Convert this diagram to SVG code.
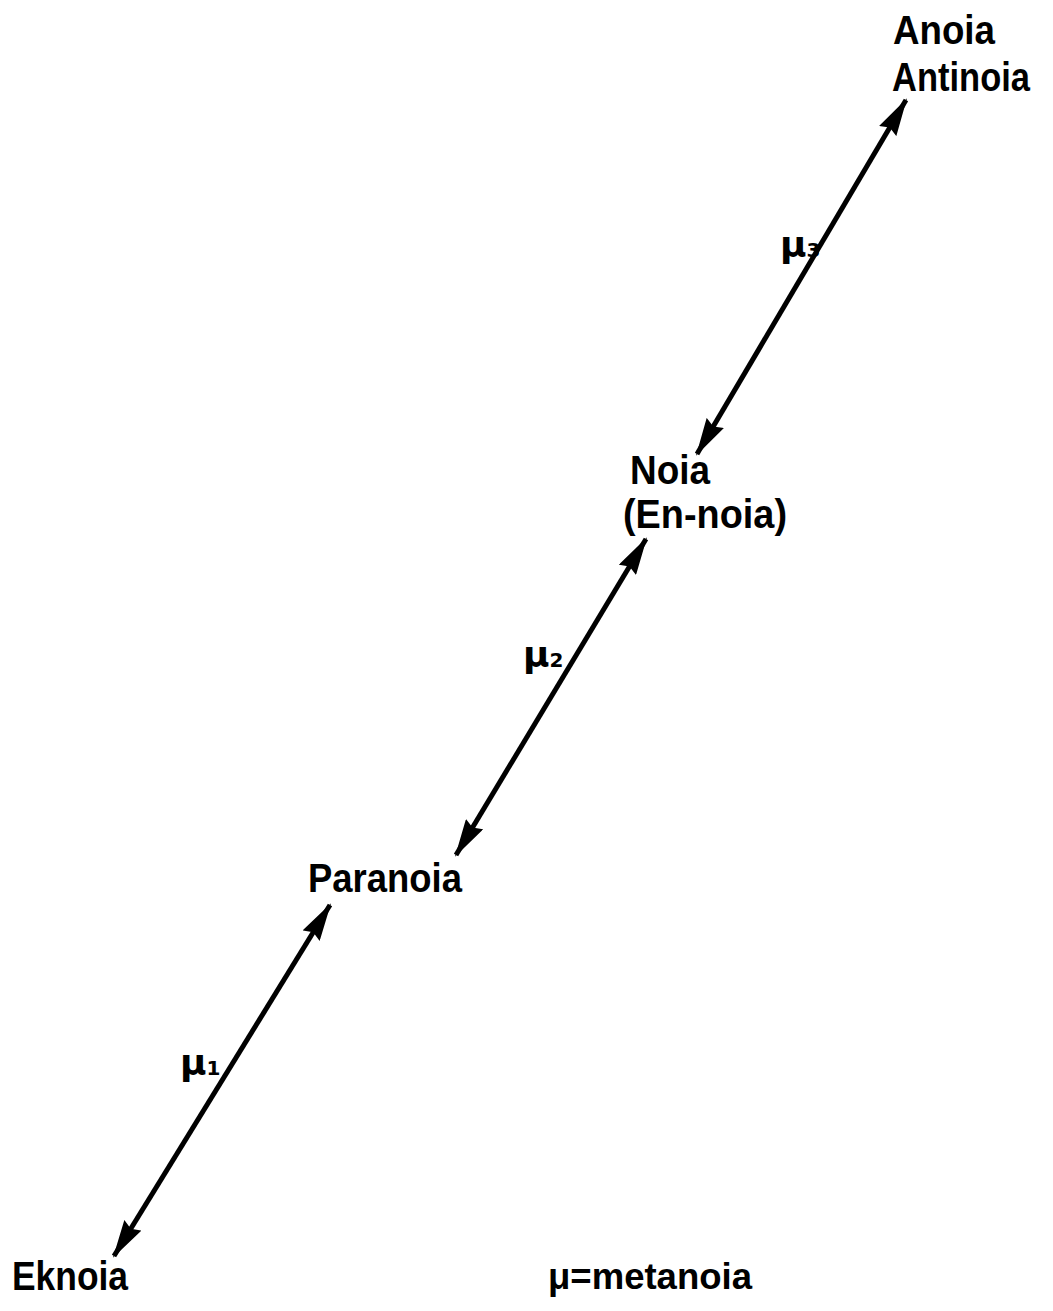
<svg xmlns="http://www.w3.org/2000/svg" width="1053" height="1311" viewBox="0 0 1053 1311">
<style>
.lbl{font-family:"Liberation Sans",Arial,sans-serif;font-weight:bold;font-size:40px;fill:#000}
.mu{font-family:"DejaVu Sans","Liberation Sans",sans-serif;font-weight:bold;font-size:36px;fill:#000}
.sub{font-size:20px}
.conn{stroke:#000;stroke-width:5;fill:none;marker-start:url(#ah);marker-end:url(#ah)}
</style>
<defs>
<marker id="ah" markerUnits="userSpaceOnUse" viewBox="0 0 38 20" refX="36" refY="10" markerWidth="38" markerHeight="20" orient="auto-start-reverse">
<path d="M0,0 L38,10 L0,20 L4,10 Z" fill="#000"/>
</marker>
</defs>
<rect width="1053" height="1311" fill="#fff"/>
<g id="connectors">
<line class="conn" x1="697" y1="454" x2="906" y2="100"/>
<line class="conn" x1="456" y1="855" x2="646" y2="539"/>
<line class="conn" x1="114" y1="1256" x2="330" y2="905"/>
</g>
<g id="anoia"><text class="lbl" x="893" y="44" textLength="102" lengthAdjust="spacingAndGlyphs">Anoia</text><text class="lbl" x="892" y="91" textLength="138" lengthAdjust="spacingAndGlyphs">Antinoia</text></g>
<g id="noia"><text class="lbl" x="630" y="484" textLength="80" lengthAdjust="spacingAndGlyphs">Noia</text><text class="lbl" x="623" y="528" textLength="164" lengthAdjust="spacingAndGlyphs">(En-noia)</text></g>
<g id="paranoia"><text class="lbl" x="308" y="892" textLength="154" lengthAdjust="spacingAndGlyphs">Paranoia</text></g>
<g id="eknoia"><text class="lbl" x="12" y="1290" textLength="116" lengthAdjust="spacingAndGlyphs">Eknoia</text></g>
<g id="labels">
<text class="mu" x="780" y="257">μ<tspan class="sub">3</tspan></text>
<text class="mu" x="523" y="667">μ<tspan class="sub">2</tspan></text>
<text class="mu" x="180" y="1075">μ<tspan class="sub">1</tspan></text>
</g>
<g id="legend"><text class="lbl" x="548" y="1289" style="font-size:36px" textLength="204" lengthAdjust="spacingAndGlyphs">μ=metanoia</text></g>
</svg>
